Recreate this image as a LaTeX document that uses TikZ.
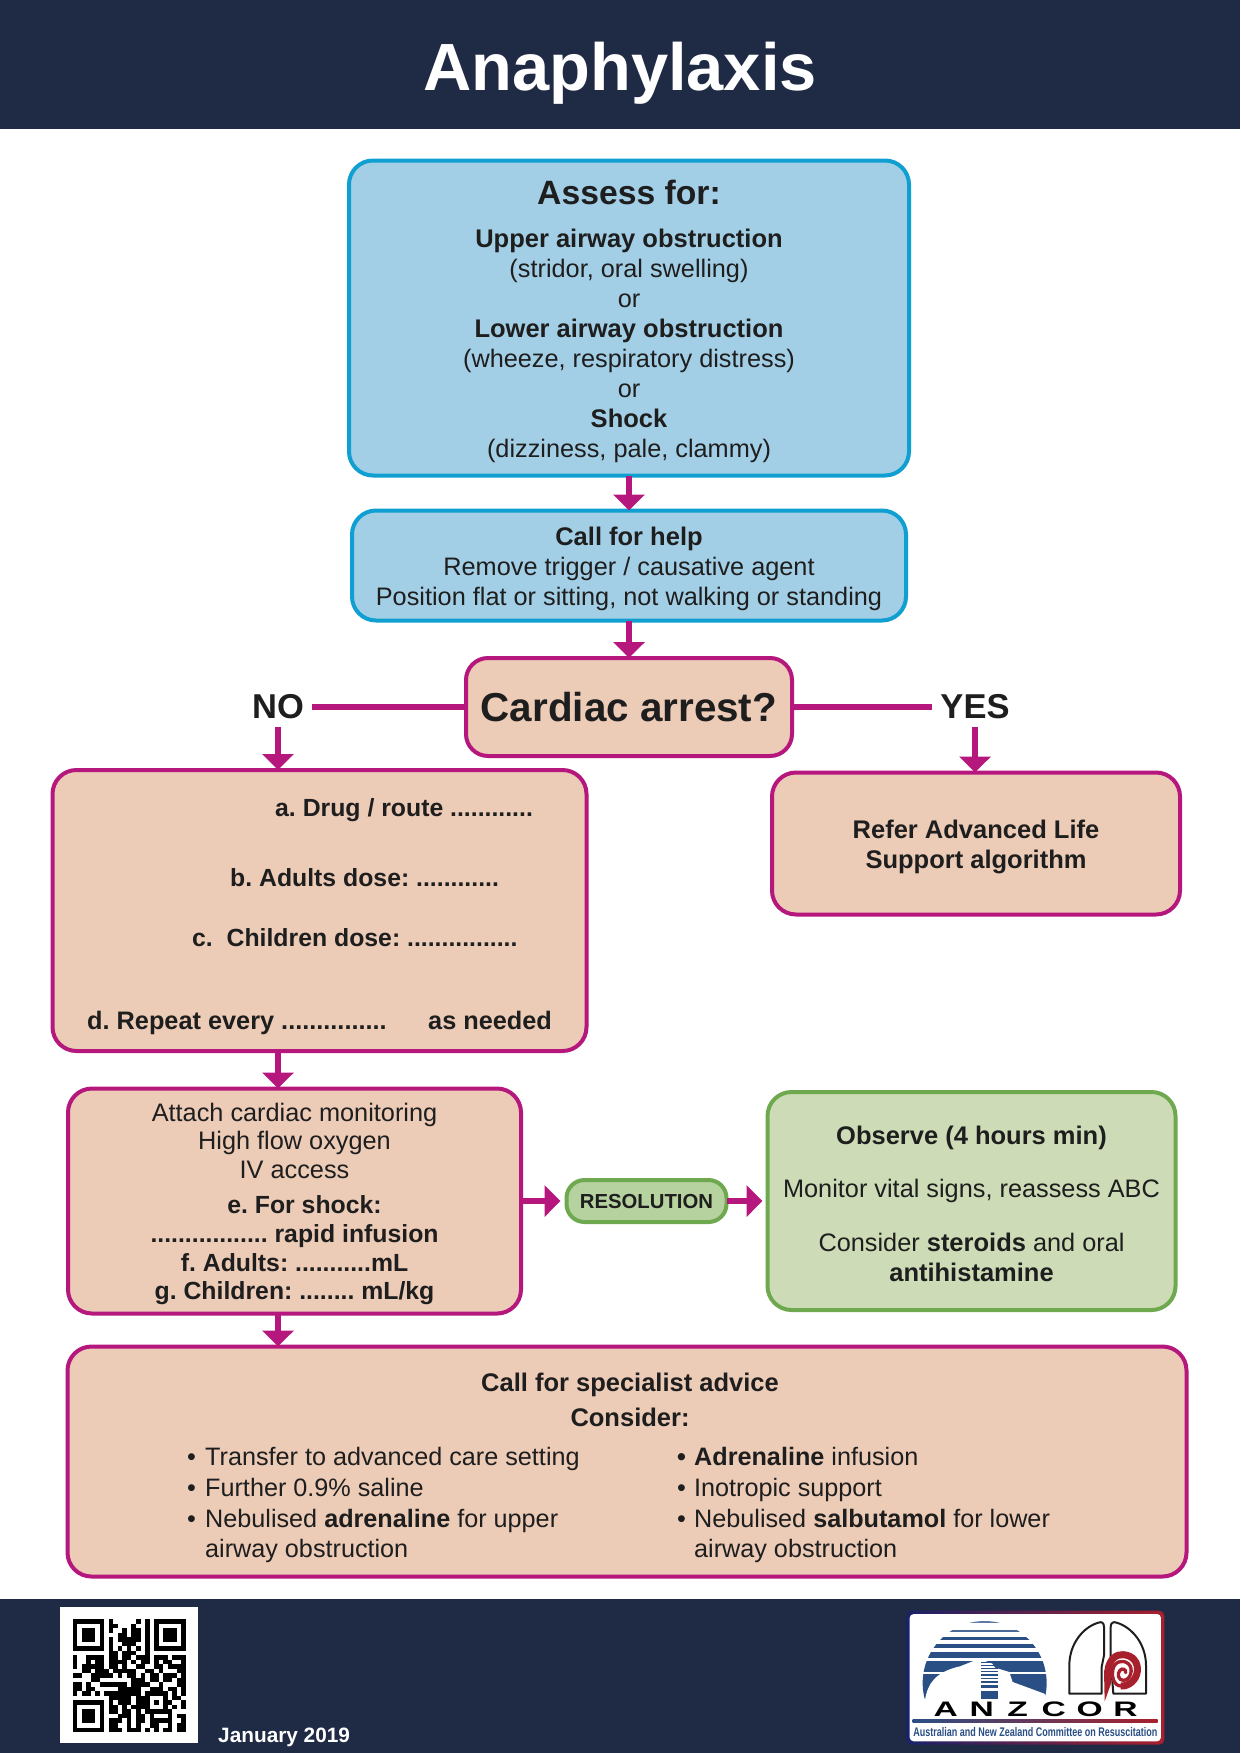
\documentclass[tikz,border=0pt]{standalone}
\usepackage{fontspec}
\setmainfont{Liberation Sans}
\usetikzlibrary{arrows.meta}
\definecolor{navy}{HTML}{1F2A44}
\definecolor{bluefill}{HTML}{A3CFE6}
\definecolor{blueline}{HTML}{0F9FD1}
\definecolor{peach}{HTML}{ECCBB7}
\definecolor{magenta2}{HTML}{B5177D}
\definecolor{greenfill}{HTML}{CDDCB6}
\definecolor{greenfilltwo}{HTML}{B6D29E}
\definecolor{greenline}{HTML}{6EA94F}
\definecolor{ink}{HTML}{1E1E1E}
\definecolor{logonavy}{HTML}{2A4F85}
\definecolor{logored}{HTML}{A8202C}
\AtBeginDocument{\frenchspacing}
\newcommand\bodyfont{\fontsize{25.3}{30}\selectfont}
\newcommand\boldfont{\fontsize{24.8}{29.6}\selectfont\bfseries}
\newcommand\bd[1]{{\fontsize{25.5}{30}\selectfont\bfseries #1}}
\newcommand\up[1]{\rule{0pt}{#1pt}}
\newdimen\qrxd \newdimen\qryd
\qrxd=72.7pt \qryd=-1619pt
\def\qrscan#1{\ifx#1;\global\advance\qryd by -4.52pt \global\qrxd=72.7pt \let\qrnext\relax\else\ifx#1X\fill[black] (\the\qrxd,\the\qryd) rectangle ++(4.52pt,-4.52pt);\fi\global\advance\qrxd by 4.52pt \let\qrnext\qrscan\fi\qrnext}
\def\qrrow#1{\qrscan#1;}
\tikzset{
  box/.style={draw,line width=4pt,rounded corners=24pt,inner sep=0pt,outer sep=0pt,align=center,text=ink,font=\bodyfont},
  bluebox/.style={box,fill=bluefill,draw=blueline},
  peachbox/.style={box,fill=peach,draw=magenta2},
  greenbox/.style={box,fill=greenfill,draw=greenline},
  flow/.style={draw=magenta2,line width=6.5pt,-{Triangle[width=31pt,length=16pt]}},
  plainflow/.style={draw=magenta2,line width=6.5pt},
  answer/.style={text=ink,font=\fontsize{34.5}{36}\selectfont\bfseries,inner xsep=8pt,inner ysep=0pt,minimum height=40pt,outer sep=0pt},
  itemline/.style={text=ink,font=\boldfont,inner sep=0pt,anchor=base west},
  listtext/.style={text=ink,font=\fontsize{25.2}{30.8}\selectfont,inner sep=0pt,align=left,anchor=north west},
}
\begin{document}
\begin{tikzpicture}[x=1pt,y=-1pt]
\useasboundingbox (0,0) rectangle (1240,1753);
\fill[white] (0,0) rectangle (1240,1753);
\fill[navy] (0,0) rectangle (1240,129);
\fill[navy] (0,1599) rectangle (1240,1753);
\node[text=white,font=\fontsize{66.8}{70}\selectfont\bfseries,inner sep=0pt] (title) at (620,73) {Anaphylaxis};

\node[bluebox,minimum width=560pt,minimum height=315pt] (assess) at (629,318) {\up{31}{\fontsize{33.7}{34}\selectfont\bfseries Assess for:}\\[13pt]
\bd{Upper airway obstruction}\\(stridor, oral swelling)\\or\\\bd{Lower airway obstruction}\\(wheeze, respiratory distress)\\or\\\bd{Shock}\\(dizziness, pale, clammy)};
\node[bluebox,minimum width=554pt,minimum height=110pt] (call) at (629,565.5) {\up{26}\bd{Call for help}\\Remove trigger / causative agent\\Position flat or sitting, not walking or standing};
\node[peachbox,rounded corners=22pt,minimum width=326pt,minimum height=98pt,font=\fontsize{40.4}{44}\selectfont\bfseries] (cardiac) at (629,707) {Cardiac arrest?};
\node[answer] (no) at (278,707) {NO};
\node[answer] (yes) at (975,707) {YES};

\node[peachbox,minimum width=534pt,minimum height=281pt] (left) at (319.5,910.5) {};
\node[itemline] (itema) at (275,816) {a. Drug / route ............};
\node[itemline] (itemb) at (230,886) {b. Adults dose: ............};
\node[itemline] (itemc) at (192,946) {c.\ \ Children dose: ................};
\node[itemline,font=\fontsize{25.3}{30}\selectfont\bfseries] (itemd) at (87,1029) {d. Repeat every ...............};
\node[itemline,font=\fontsize{25.3}{30}\selectfont\bfseries] (iteme) at (428,1029) {as needed};

\node[peachbox,minimum width=408pt,minimum height=142pt] (als) at (976,843.5) {\up{26}\bd{Refer Advanced Life}\\\bd{Support algorithm}};
\node[peachbox,minimum width=453pt,minimum height=225pt,font=\fontsize{25.3}{28.6}\selectfont] (attach) at (294.5,1201) {\up{24}Attach cardiac monitoring\\High flow oxygen\\IV access\\[7pt]
{\boldfont\hspace*{20pt}e. For shock:}\\{\boldfont ................. rapid infusion}\\{\boldfont f. Adults: ...........mL}\\{\boldfont g. Children: ........ mL/kg}};
\node[box,fill=greenfilltwo,draw=greenline,rounded corners=18pt,minimum width=160pt,minimum height=42pt,font=\fontsize{20.3}{22}\selectfont\bfseries] (res) at (646.5,1201) {RESOLUTION};
\node[greenbox,minimum width=408pt,minimum height=218pt] (observe) at (971.5,1201) {\up{23.5}\bd{Observe (4 hours min)}\\[23pt]Monitor vital signs, reassess ABC\\[24pt]Consider \bd{steroids} and oral\\\bd{antihistamine}};
\node[peachbox,minimum width=1119pt,minimum height=230pt] (bottom) at (627,1461.5) {};
\node[text=ink,font=\fontsize{25.5}{35}\selectfont\bfseries,align=center,inner sep=0pt] (bhead) at (630,1399.5) {Call for specialist advice\\Consider:};
\node[listtext] (lista) at (187,1447) {\makebox[18pt][l]{•}Transfer to advanced care setting\\\makebox[18pt][l]{•}Further 0.9\% saline\\\makebox[18pt][l]{•}Nebulised \textbf{adrenaline} for upper\\\hspace*{18pt}airway obstruction};
\node[listtext] (listb) at (677,1447) {\makebox[17pt][l]{\textbf{•}}\textbf{Adrenaline} infusion\\\makebox[17pt][l]{•}Inotropic support\\\makebox[17pt][l]{•}Nebulised \textbf{salbutamol} for lower\\\hspace*{17pt}airway obstruction};

\draw[flow] (assess) -- (call);
\draw[flow] (call) -- (cardiac);
\draw[plainflow] (cardiac.west) -- (no.east);
\draw[plainflow] (cardiac.east) -- (yes.west);
\draw[flow] (no.south) -- (no.south |- left.north);
\draw[flow] (yes.south) -- (yes.south |- als.north);
\draw[flow] (left.south -| no) -- (attach.north -| no);
\draw[flow] (attach.south -| no) -- (bottom.north -| no);
\draw[flow,shorten >=6pt] (attach) -- (res);
\draw[flow,shorten >=5pt] (res) -- (observe);

% footer
\fill[white] (60,1607) rectangle (198,1743);
\qrrow{XXXXXXX.X.....X.X.XXXXXXX}
\qrrow{X.....X.XX...X..X.X.....X}
\qrrow{X.XXX.X.X..X.XX.X.X.XXX.X}
\qrrow{X.XXX.X...XX.XX.X.X.XXX.X}
\qrrow{X.XXX.X.X.XXXXX.X.X.XXX.X}
\qrrow{X.....X.X..XXX..X.X.....X}
\qrrow{XXXXXXX.X.X.X.X.X.XXXXXXX}
\qrrow{........XX.XXX..X........}
\qrrow{X..XXXX.XX.XX.XXX.XXX.XXX}
\qrrow{X..X.XX.XXXX.X.XX.X.XX..X}
\qrrow{X.XXXXX.XX.X..XX..XX.XXXX}
\qrrow{..XX.XXX.XXXXX..XX.X...XX}
\qrrow{XX..XXXXX.X.XX.X.XX.XXX.X}
\qrrow{....XX.......XXX.XX.XX.XX}
\qrrow{XX.X..XXXXXX.XXXX..X...XX}
\qrrow{XX.XX.....XXXXX..XXX.XX.X}
\qrrow{X.XX.X.XXXXXXXX.XXXXX.X.X}
\qrrow{........XXXXX.XXX...X.XX.}
\qrrow{XXXXXXX.X.XXX.XXX.X.XX..X}
\qrrow{X.....X.XX.X.XXXX...X.X.X}
\qrrow{X.XXX.X.XX.XX.X.XXXXXX...}
\qrrow{X.XXX.X...XXX.XX.X...X.XX}
\qrrow{X.XXX.X.XXX.X.XX.XXXXX..X}
\qrrow{X.....X.XX..X.X..XX..X.XX}
\qrrow{XXXXXXX.XXX.XXX.X.X.XX.XX}
\node[text=white,font=\fontsize{20.8}{22}\selectfont\bfseries,inner sep=0pt,anchor=base west] (date) at (218,1742) {January 2019};

% logo frame and lettering
\begin{scope}[shift={(880,1590)},x=0.3333pt,y=-0.3333pt]
\shade[left color=navy!80!blue,right color=logored,rounded corners=5pt] (80,62) rectangle (853,464);
\fill[white,rounded corners=4pt] (89,72) rectangle (843,454);
\node[text=black,font=\fontsize{21}{22}\selectfont\bfseries,inner sep=0pt,xscale=1.6] (anzcor) at (467,358) {\makebox[22.5pt]{A}\makebox[22.5pt]{N}\makebox[22.5pt]{Z}\makebox[22.5pt]{C}\makebox[22.5pt]{O}\makebox[22.5pt]{R}};
\shade[left color=logonavy,right color=logored] (98,389) rectangle (833,398);
\node[text=logonavy,font=\fontsize{12.5}{13}\selectfont\bfseries,inner sep=0pt,xscale=0.72] (anzcorname) at (466,425) {Australian and New Zealand Committee on Resuscitation};
\end{scope}
% logo dome
\begin{scope}[shift={(915,1612)},x=0.3333pt,y=-0.3333pt]
\begin{scope}
\clip (209,213) circle[radius=186];
\fill[logonavy!75!white] (0,28) rectangle (420,34);
\fill[logonavy!85!white] (0,53) rectangle (420,59);
\fill[logonavy] (0,75) rectangle (420,85);
\fill[logonavy] (0,97) rectangle (420,108);
\fill[logonavy] (0,120) rectangle (420,139);
\fill[logonavy] (0,147) rectangle (420,262);
\end{scope}
\fill[white] (30,264) .. controls (38,215) and (60,180) .. (135,163) -- (178,146) -- (208,146) -- (232,155) -- (240,167) -- (283,180) -- (293,210) -- (388,245) -- (402,264) -- cycle;
\fill[white] (0,181) rectangle (420,185);
\foreach \a/\b in {150/153,158/161,168/171,177/180,187/191,197/202,208/214,220/228,236/260}
  \fill[logonavy] (198,\a) rectangle (250,\b);
\end{scope}
% logo lungs and spiral
\begin{scope}[shift={(1060,1612)},x=0.3333pt,y=-0.3333pt]
\draw[ink,line width=2pt,line join=round] (132,45) .. controls (132,32) and (125,28) .. (115,32) .. controls (70,45) and (28,95) .. (28,160) -- (28,245) -- (125,245) -- (125,165) -- (132,130) -- cycle;
\draw[ink,line width=2pt,line join=round] (152,45) .. controls (152,32) and (160,28) .. (170,32) .. controls (215,45) and (258,95) .. (258,160) -- (258,245) -- (160,245) -- (152,145) -- cycle;
\fill[logored] (134,268) -- (132,175) -- (155,175) -- (153,215) -- cycle;
\draw[logored,line width=7pt] (143,180) .. controls (147,140) and (170,126) .. (190,128) .. controls (218,130) and (235,150) .. (232,178) .. controls (229,205) and (205,224) .. (182,222);
\draw[logored,line width=3.3pt,line cap=round] (182,222) .. controls (160,220) and (155,195) .. (158,175) .. controls (162,150) and (185,140) .. (205,155) .. controls (222,170) and (212,205) .. (190,205) .. controls (175,205) and (170,185) .. (180,175) .. controls (187,167) and (198,172) .. (197,182);
\end{scope}
\end{tikzpicture}
\end{document}
